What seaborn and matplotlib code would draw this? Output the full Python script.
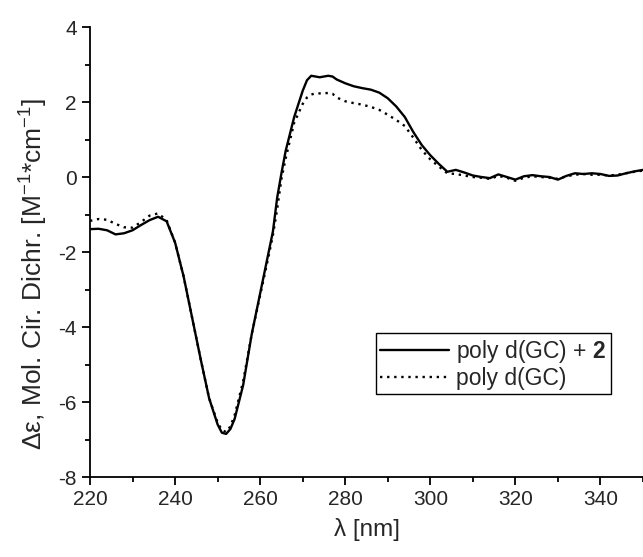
import pandas as pd
import matplotlib
matplotlib.use("Agg")
import matplotlib.pyplot as plt
import seaborn as sns
from matplotlib.ticker import MultipleLocator

# wavelengths (nm)
wl = [220, 222, 224, 226, 228, 230, 232, 234, 236, 238,
      240, 242, 244, 246, 248, 250,
      251, 252, 253, 254, 256, 258, 260, 262,
      263, 264, 265, 266, 268, 270, 271, 272, 273, 274,
      276, 277, 278,
      280, 282, 284, 286, 288, 290, 292, 294, 296, 298,
      300, 302, 304, 306, 308, 310, 312, 314, 316, 318,
      320, 322, 324, 326, 328, 330, 332, 334, 336, 338,
      340, 342, 344, 346, 348, 350]

# poly d(GC) + 2
cd_complex = [-1.39, -1.38, -1.42, -1.53, -1.50, -1.42, -1.28, -1.15, -1.06, -1.18,
              -1.75, -2.65, -3.75, -4.85, -5.90, -6.60,
              -6.82, -6.85, -6.72, -6.45, -5.55, -4.20, -3.10, -2.00,
              -1.45, -0.55, 0.10, 0.70, 1.60, 2.30, 2.58, 2.70, 2.68, 2.66,
              2.70, 2.68, 2.60,
              2.50, 2.42, 2.37, 2.33, 2.25, 2.10, 1.88, 1.60, 1.20, 0.85,
              0.58, 0.35, 0.14, 0.19, 0.12, 0.04, 0.00, -0.03, 0.07, 0.00,
              -0.07, 0.02, 0.05, 0.02, 0.00, -0.07, 0.03, 0.10, 0.08, 0.10,
              0.08, 0.03, 0.04, 0.10, 0.15, 0.19]

# poly d(GC)
cd_free = [-1.17, -1.12, -1.14, -1.25, -1.34, -1.35, -1.20, -1.03, -0.97, -1.15,
           -1.75, -2.65, -3.75, -4.85, -5.90, -6.55,
           -6.75, -6.80, -6.65, -6.35, -5.45, -4.20, -3.15, -2.10,
           -1.55, -0.85, -0.05, 0.50, 1.45, 1.95, 2.12, 2.20, 2.23, 2.23,
           2.24, 2.22, 2.12,
           2.02, 1.97, 1.93, 1.87, 1.79, 1.66, 1.52, 1.36, 1.05, 0.72,
           0.47, 0.28, 0.10, 0.08, 0.04, 0.00, -0.02, -0.05, 0.03, -0.02,
           -0.10, -0.02, 0.02, 0.00, -0.02, -0.05, 0.02, 0.06, 0.08, 0.06,
           0.06, 0.04, 0.06, 0.10, 0.14, 0.17]

lab_complex = r"poly d(GC) + $\mathbf{2}$"
lab_free = "poly d(GC)"

df = pd.DataFrame({
    "wl": wl + wl,
    "cd": cd_complex + cd_free,
    "sample": [lab_complex] * len(wl) + [lab_free] * len(wl),
})

sns.set_style("ticks")
plt.rcParams["font.family"] = ["Liberation Sans", "DejaVu Sans"]
plt.rcParams["mathtext.fontset"] = "custom"
plt.rcParams["mathtext.rm"] = "Liberation Sans"
plt.rcParams["mathtext.it"] = "Liberation Sans:italic"
plt.rcParams["mathtext.bf"] = "Liberation Sans:bold"
plt.rcParams["axes.unicode_minus"] = False

fig, ax = plt.subplots(figsize=(6.43, 5.57), dpi=100)
fig.subplots_adjust(left=0.14, right=1.0, bottom=0.1436, top=0.9515)

sns.lineplot(data=df, x="wl", y="cd", style="sample",
             dashes={lab_complex: "", lab_free: (1, 2)},
             color="black", linewidth=1.7, ax=ax, legend=False)

ax.set_xlim(220, 350)
ax.set_ylim(-8, 4)
ax.set_xticks(range(220, 341, 20))
ax.xaxis.set_minor_locator(MultipleLocator(10))
ax.yaxis.set_major_locator(MultipleLocator(2))
ax.yaxis.set_minor_locator(MultipleLocator(1))
ax.tick_params(which="major", direction="out", length=6, width=1.3, labelsize=15, color="black")
ax.tick_params(which="minor", direction="out", length=3.6, width=1.3, color="black")
sns.despine(ax=ax)
for s in ["left", "bottom"]:
    ax.spines[s].set_linewidth(1.3)
    ax.spines[s].set_color("black")

ax.set_xlabel("λ [nm]", fontsize=17.5, labelpad=6)
ax.set_ylabel(r"Δε, Mol. Cir. Dichr. [M$^{-1}$*cm$^{-1}$]", fontsize=19)
ax.yaxis.set_label_coords(-0.073, 0.45)

h1, = ax.plot([], [], color="black", lw=1.7, ls="-")
h2, = ax.plot([], [], color="black", lw=1.7, ls=(0, (1, 2)))
leg = ax.legend([h1, h2], [lab_complex, lab_free], loc="upper left",
                bbox_to_anchor=(0.517, 0.32), fontsize=16.5, handlelength=3.0,
                fancybox=False, edgecolor="black", framealpha=1,
                borderpad=0.2, labelspacing=0.1, handletextpad=0.3,
                borderaxespad=0)
leg.get_frame().set_linewidth(1.0)

plt.savefig("out.png", dpi=100)
